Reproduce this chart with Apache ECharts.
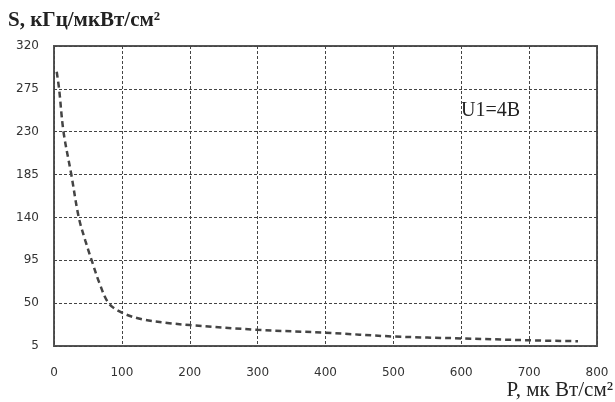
<!DOCTYPE html>
<html><head><meta charset="utf-8">
<script src="https://cdn.jsdelivr.net/npm/echarts@6/dist/echarts.min.js"></script>
<style>html,body{margin:0;padding:0;background:#fff}#c{width:615px;height:402px}</style>
</head><body><div id="c"></div>
<script>
const xValues = [4, 7.5, 14, 25.5, 36.5, 46, 55.5, 67, 80.5, 100, 130, 170, 200, 300, 400, 500, 600, 700, 772];
const sValues = [293, 275, 230, 185, 140, 116, 95, 71, 50, 40, 33, 29, 27, 22, 19, 15, 13, 11, 10];
const yTicks = [5, 50, 95, 140, 185, 230, 275, 320];
const xTicks = [0, 100, 200, 300, 400, 500, 600, 700, 800];
const seriesLabel = 'U1=4B';
const yTitle = 'S, кГц/мкВт/см²';
const xTitle = 'P, мк Вт/см²';

const chart = echarts.init(document.getElementById('c'), null, {renderer: 'canvas'});
const gridLine = {show: true, lineStyle: {color: '#444', type: [3, 2], width: 1}};
chart.setOption({
  animation: false,
  backgroundColor: '#fff',
  grid: {left: 54, right: 18, top: 46, bottom: 56, show: true, borderColor: '#555', borderWidth: 2, backgroundColor: 'transparent'},
  xAxis: {
    type: 'value', min: xTicks[0], max: xTicks[xTicks.length - 1], interval: 100,
    axisLine: {show: false}, axisTick: {show: false},
    splitLine: gridLine,
    axisLabel: {color: '#333', fontFamily: 'DejaVu Sans', fontSize: 12, margin: 21}
  },
  yAxis: {
    type: 'value', min: yTicks[0], max: yTicks[yTicks.length - 1], interval: 45,
    axisLine: {show: false}, axisTick: {show: false},
    splitLine: gridLine,
    axisLabel: {color: '#333', fontFamily: 'DejaVu Sans', fontSize: 12, margin: 15}
  },
  series: [{
    type: 'line', smooth: 0.35, symbol: 'none',
    data: xValues.map((x, i) => [x, sValues[i]]),
    lineStyle: {color: '#444', width: 2.5, type: [6, 4]}
  }],
  graphic: [
    {type: 'text', left: 8, top: 10, style: {text: yTitle, font: 'bold 21px "Liberation Serif"', fill: '#222'}},
    {type: 'text', right: 2, top: 380, style: {text: xTitle, font: '21px "Liberation Serif"', fill: '#222'}},
    {type: 'text', left: 461, top: 101, style: {text: seriesLabel, font: '20px "Liberation Serif"', fill: '#222'}}
  ]
});
</script></body></html>
